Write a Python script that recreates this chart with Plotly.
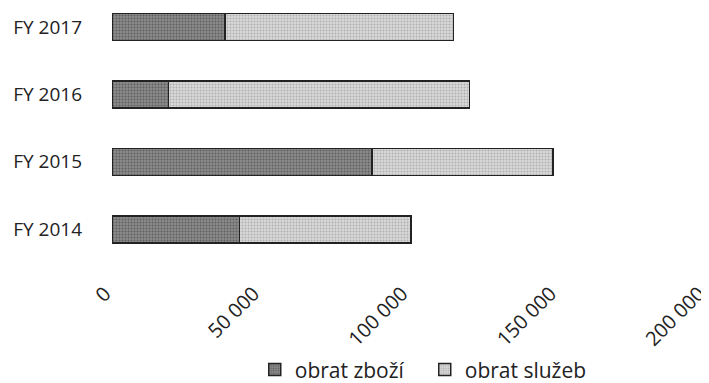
import plotly.graph_objects as go

categories = ["FY 2014", "FY 2015", "FY 2016", "FY 2017"]
obrat_zbozi = [43000, 87500, 19000, 38000]
obrat_sluzeb = [57700, 61000, 101300, 77000]
x_ticks = [0, 50000, 100000, 150000, 200000]
x_tick_labels = ["0", "50 000", "100 000", "150 000", "200 000"]

font_family = "'Open Sans', sans-serif"

fig = go.Figure()
fig.add_trace(go.Bar(
    y=categories, x=obrat_zbozi, orientation="h", name="obrat zboží",
    marker=dict(color="#7a7a7a", line=dict(color="#222222", width=1.5),
                pattern=dict(shape=".", fgcolor="#333333", bgcolor="#8a8a8a", size=3, solidity=0.35)),
    width=0.4,
))
fig.add_trace(go.Bar(
    y=categories, x=obrat_sluzeb, orientation="h", name="obrat služeb",
    marker=dict(color="#c8c8c8", line=dict(color="#222222", width=1.5),
                pattern=dict(shape=".", fgcolor="#888888", bgcolor="#d8d8d8", size=3, solidity=0.35)),
    width=0.4,
))

fig.update_layout(
    barmode="stack",
    width=701, height=375,
    margin=dict(l=104, r=3, t=0, b=120, autoexpand=False),
    plot_bgcolor="white", paper_bgcolor="white",
    font=dict(family=font_family, size=18, color="#222222"),
    showlegend=True,
    legend=dict(orientation="h", xref="container", x=0.352, xanchor="left",
                yref="container", y=0.035, yanchor="middle",
                font=dict(size=21), itemwidth=30, entrywidth=125,
                traceorder="normal"),
    bargap=0.6,
)
fig.update_xaxes(
    range=[0, 200000], tickvals=x_ticks, ticktext=x_tick_labels, tickangle=-45,
    showgrid=False, zeroline=False, showline=False, ticks="",
    ticklabelstandoff=14, ticklabelshift=-7, tickfont=dict(size=20), automargin=False,
    ticklabeloverflow="allow",
)
fig.update_yaxes(
    type="category", categoryorder="array", categoryarray=categories,
    range=[-0.5, 3.28], showgrid=False, showline=False, ticks="",
    ticklabelstandoff=29, tickfont=dict(size=19), automargin=False,
)

fig.write_html("out.html")
